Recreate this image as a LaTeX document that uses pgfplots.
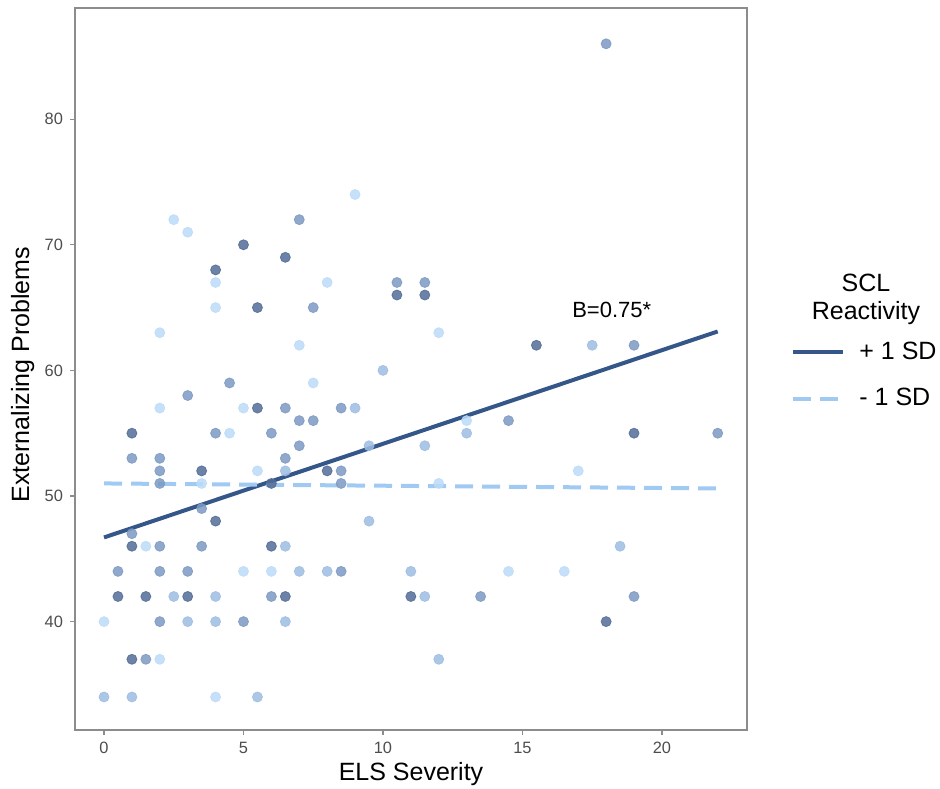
\documentclass[border=0pt]{standalone}
\usepackage{fontspec}
\setmainfont{Liberation Sans}
\usepackage{pgfplots}
\pgfplotsset{compat=1.18}
\definecolor{ptd}{RGB}{82,108,150}
\definecolor{ptm}{RGB}{124,153,194}
\definecolor{ptlm}{RGB}{158,189,226}
\definecolor{ptl}{RGB}{188,219,248}
\definecolor{lined}{RGB}{52,86,136}
\definecolor{linel}{RGB}{160,202,242}
\definecolor{framegray}{RGB}{140,140,140}
\definecolor{labgray}{RGB}{77,77,77}
\begin{document}
\begin{tikzpicture}
\path[use as bounding box] (0,0) rectangle (470pt,394pt);
\begin{axis}[
  at={(37.5pt,29pt)}, anchor=south west,
  scale only axis, width=336pt, height=361pt,
  xmin=-1.04, xmax=23.05, ymin=31.37, ymax=88.85,
  xtick={0,5,10,15,20}, ytick={40,50,60,70,80},
  axis line style={draw=framegray, line width=0.6pt},
  tick style={draw=framegray, line width=0.6pt},
  tick align=outside, major tick length=2.5pt,
  xtick pos=bottom, ytick pos=left,
  tick label style={font=\fontsize{8.2}{9}\selectfont, text=labgray},
  /pgf/number format/assume math mode=true,
  xlabel={ELS Severity}, ylabel={Externalizing Problems},
  label style={font=\fontsize{12.5}{14}\selectfont},
  xlabel style={at={(rel axis cs:0.5,0)}, anchor=base, yshift=-25pt},
  ylabel style={at={(rel axis cs:0,0.492)}, anchor=base, yshift=23pt},
  legend style={at={(rel axis cs:1.0566,0.549)}, anchor=north west, draw=none, fill=none,
    font=\fontsize{12.5}{15}\selectfont, row sep=9pt, cells={anchor=west},
    /tikz/every odd column/.append style={column sep=5pt}},
  legend image code/.code={\draw[#1] (0pt,0pt) -- (25pt,0pt);},
]
\addplot[color=lined, line width=2pt] coordinates {(0,46.7) (22,63.1)};
\addlegendentry{+ 1 SD}
\addplot[color=linel, line width=2pt, dash pattern=on 9pt off 4.5pt] coordinates {(0,51.0) (22,50.6)};
\addlegendentry{- 1 SD}
% light points
\addplot[only marks, mark=*, mark size=2.5pt, forget plot,
  mark options={fill=ptl, draw=ptl, opacity=0.85}] coordinates {
(0,40) (2,57) (3.5,51) (4.5,55) (5,57) (5.5,52) (7.5,59) (1.5,46) (5,44) (2,37)
(4,34) (2.5,72) (3,71) (4,67) (4,65) (2,63) (7,62) (9,74) (8,67) (12,63)
(13,56) (12,51) (14.5,44) (17,52) (16.5,44) (6,44)
};
% light-medium points
\addplot[only marks, mark=*, mark size=2.5pt, forget plot,
  mark options={fill=ptlm, draw=ptlm, opacity=0.85}] coordinates {
(3,40) (4,40) (6.5,40) (1,34) (5.5,34) (0,34) (4,42) (2.5,42) (7,44)
(10,60) (9,57) (9.5,54) (11.5,54) (13,55) (9.5,48) (8,44) (11,44) (11.5,42)
(12,37) (17.5,62) (18.5,46) (6.5,46) (6.5,52)
};
% medium points
\addplot[only marks, mark=*, mark size=2.5pt, forget plot,
  mark options={fill=ptm, draw=ptm, opacity=0.85}] coordinates {
(0.5,44) (1,53) (3,58) (4.5,59) (2,53) (2,52) (2,51) (4,55) (6.5,57) (6,55)
(6.5,53) (7,56) (7.5,56) (7,54) (3.5,49) (1,47) (2,46) (3.5,46) (2,44) (3,44)
(6,42) (2,40) (5,40) (1.5,37) (7,72) (7.5,65) (10.5,67) (11.5,67) (8.5,57)
(8.5,52) (8.5,51) (14.5,56) (8.5,44) (13.5,42) (19,62) (18,86) (22,55) (19,42)
};
% dark points
\addplot[only marks, mark=*, mark size=2.5pt, forget plot,
  mark options={fill=ptd, draw=ptd, opacity=0.85}] coordinates {
(1,55) (3.5,52) (5.5,57) (6,51) (1,46) (6,46) (1.5,42) (3,42) (6.5,42) (1,37)
(5,70) (6.5,69) (4,68) (5.5,65) (10.5,66) (11.5,66) (15.5,62) (8,52) (11,42)
(19,55) (18,40) (4,48) (0.5,42)
};
\node[font=\fontsize{11}{13}\selectfont] at (axis cs:18.2,64.8) {B=0.75*};
\end{axis}
\node[font=\fontsize{12.5}{14}\selectfont, align=center] at (433pt,244.5pt) {SCL\\Reactivity};
\end{tikzpicture}
\end{document}
